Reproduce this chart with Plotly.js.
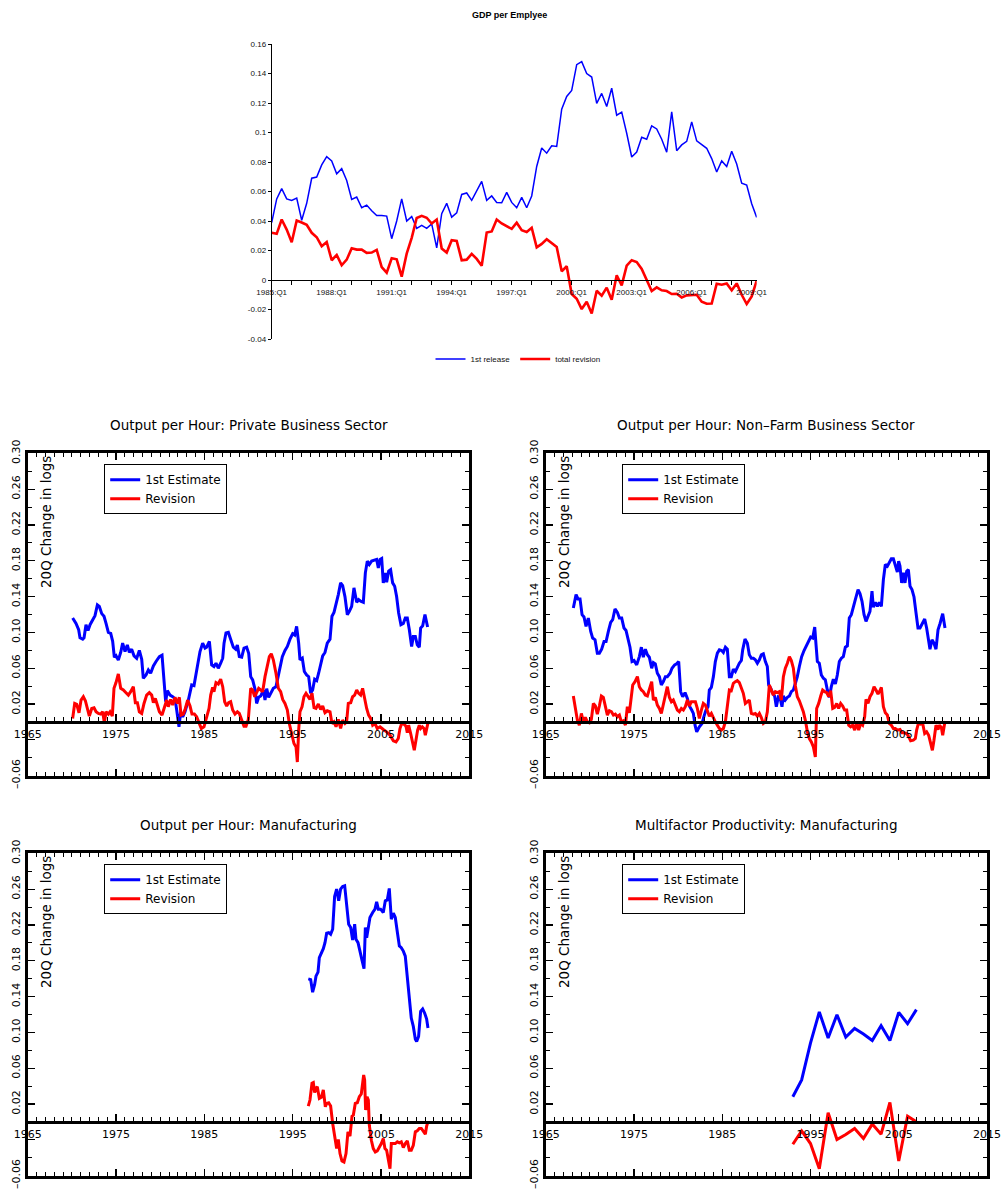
<!DOCTYPE html>
<html><head><meta charset="utf-8">
<script src="https://cdn.plot.ly/plotly-3.0.1.min.js"></script>
<style>html,body{margin:0;padding:0;background:#fff}</style>
</head><body>
<div id="chart" style="width:1001px;height:1191px"></div>
<script>
// ================= DATA =================
// Top chart: GDP per Employee, quarterly from 1985:Q1
const gdpStartYear = 1985;
const gdpFirstRelease = [
0.039,0.055,0.062,0.055,0.054,0.0555,0.0405,0.052,0.069,0.0698,
0.078,0.0836,0.0807,0.072,0.0755,0.0675,0.0546,0.0562,0.049,0.0508,
0.047,0.0437,0.0437,0.0433,0.028,0.040,0.055,0.040,0.043,0.035,
0.037,0.035,0.038,0.0218,0.045,0.052,0.0426,0.0455,0.058,0.059,
0.054,0.060,0.0669,0.054,0.057,0.0526,0.0524,0.0594,0.0526,0.049,
0.056,0.049,0.057,0.077,0.0895,0.086,0.091,0.0906,0.1158,0.1244,
0.1285,0.146,0.148,0.140,0.1376,0.1197,0.1265,0.1176,0.130,0.1117,
0.1138,0.0995,0.0834,0.0868,0.0968,0.0954,0.1045,0.1024,0.0954,0.0866,
0.114,0.0877,0.0916,0.094,0.1072,0.0943,0.0916,0.0893,0.0823,0.0732,
0.0807,0.077,0.0873,0.0786,0.0657,0.0644,0.0517,0.0424];
const gdpTotalRevision = [
0.032,0.0313,0.041,0.0342,0.0256,0.0403,0.039,0.0374,0.032,0.029,
0.0229,0.0258,0.0134,0.017,0.010,0.0138,0.0215,0.0206,0.0206,0.0184,
0.0186,0.0204,0.0088,0.005,0.0147,0.014,0.0023,0.0179,0.0286,0.042,
0.0435,0.0422,0.0383,0.041,0.0213,0.0186,0.027,0.0265,0.0134,0.0138,
0.0177,0.0143,0.0097,0.0322,0.0329,0.041,0.0383,0.0365,0.0347,0.0388,
0.0338,0.0326,0.0354,0.0222,0.0245,0.0276,0.0252,0.0224,0.0059,0.0093,
-0.0095,-0.0127,-0.0197,-0.0147,-0.0227,-0.0073,-0.0107,-0.0052,-0.0134,0.0032,
-0.0036,0.0097,0.0134,0.0122,0.0075,0.0002,-0.0075,-0.005,-0.007,-0.0075,
-0.0095,-0.0093,-0.0118,-0.0104,-0.0102,-0.01,-0.0147,-0.0161,-0.0159,-0.0025,
-0.0032,-0.0023,-0.007,-0.0023,-0.01,-0.0163,-0.0111,-0.0005];
const gdpYTickVals = [-0.04,-0.02,0,0.02,0.04,0.06,0.08,0.1,0.12,0.14,0.16];
const gdpYTickText = ['-0.04','-0.02','0','0.02','0.04','0.06','0.08','0.1','0.12','0.14','0.16'];

// Panel 1: Output per Hour, Private Business Sector
const pbsYears1st = [1970.09,1970.47,1970.77,1970.92,1971.23,1971.38,1971.60,1971.83,1972.06,1972.36,
1972.62,1972.89,1973.11,1973.38,1973.64,1973.87,1974.13,1974.40,1974.62,1974.81,
1975.00,1975.26,1975.53,1975.75,1976.02,1976.28,1976.51,1976.77,1977.04,1977.34,
1977.64,1977.91,1978.09,1978.40,1978.66,1978.92,1979.23,1979.53,1979.91,1980.21,
1980.43,1980.62,1980.81,1981.11,1981.42,1981.68,1981.87,1982.13,1982.32,1982.55,
1982.81,1983.19,1983.57,1983.83,1984.21,1984.51,1984.81,1985.08,1985.26,1985.57,
1985.83,1986.09,1986.32,1986.58,1986.85,1987.08,1987.23,1987.45,1987.72,1987.98,
1988.28,1988.55,1988.74,1988.96,1989.23,1989.49,1989.79,1990.02,1990.25,1990.47,
1990.74,1990.92,1991.15,1991.38,1991.68,1991.87,1992.06,1992.28,1992.51,1992.81,
1993.11,1993.38,1993.57,1993.83,1994.13,1994.40,1994.70,1995.00,1995.23,1995.45,
1995.68,1995.83,1996.09,1996.32,1996.58,1996.81,1997.04,1997.26,1997.49,1997.72,
1997.94,1998.17,1998.40,1998.66,1998.92,1999.23,1999.45,1999.68,1999.91,2000.17,
2000.43,2000.66,2000.92,2001.19,2001.42,2001.68,2001.94,2002.09,2002.25,2002.47,
2002.70,2003.00,2003.23,2003.45,2003.68,2003.94,2004.21,2004.51,2004.70,2004.89,
2005.08,2005.26,2005.49,2005.64,2005.87,2006.09,2006.32,2006.55,2006.77,2007.00,
2007.26,2007.53,2007.75,2007.98,2008.21,2008.47,2008.66,2008.89,2009.11,2009.34,
2009.49,2009.72,2009.98,2010.28];
const pbs1st = [0.116,0.110,0.103,0.094,0.0925,0.094,0.1086,0.102,0.1086,0.115,
0.1187,0.1307,0.129,0.121,0.118,0.110,0.100,0.099,0.090,0.0723,
0.074,0.069,0.0776,0.088,0.0787,0.086,0.0776,0.0813,0.0738,0.071,
0.0798,0.070,0.0488,0.0525,0.058,0.0544,0.0626,0.0675,0.073,0.0746,
0.043,0.0226,0.035,0.030,0.0282,0.026,0.0133,-0.0054,0.0114,0.0058,
0.0114,0.0245,0.0413,0.0406,0.0619,0.0787,0.088,0.0824,0.0835,0.0899,
0.0637,0.0619,0.0656,0.060,0.0656,0.0712,0.088,0.0993,0.100,0.0918,
0.0835,0.0813,0.086,0.073,0.0723,0.0824,0.0835,0.0768,0.0506,0.047,
0.0364,0.0207,0.0275,0.029,0.0357,0.0245,0.0372,0.0275,0.032,0.0376,
0.0394,0.0525,0.0589,0.073,0.0798,0.0843,0.0925,0.0985,0.097,0.1067,
0.088,0.0694,0.0712,0.0563,0.0525,0.0506,0.032,0.0357,0.0477,0.0462,
0.0544,0.0656,0.0738,0.0776,0.088,0.0925,0.118,0.1224,0.131,0.1422,
0.1553,0.1523,0.140,0.1198,0.1235,0.129,0.1497,0.140,0.1336,0.1366,
0.1348,0.1336,0.1665,0.1796,0.1758,0.1796,0.1807,0.1815,0.172,0.1815,
0.1826,0.1553,0.1665,0.156,0.1684,0.170,0.1553,0.1516,0.140,0.1217,
0.1086,0.110,0.116,0.116,0.103,0.0843,0.0955,0.0955,0.0862,0.0835,
0.1049,0.1075,0.1198,0.106];
const pbsYearsRev = [1970.09,1970.32,1970.55,1970.81,1971.04,1971.30,1971.53,1971.75,1971.98,1972.25,
1972.51,1972.74,1973.00,1973.26,1973.49,1973.68,1973.87,1974.13,1974.32,1974.58,
1974.77,1975.00,1975.26,1975.53,1975.83,1976.13,1976.40,1976.66,1976.96,1977.19,
1977.42,1977.64,1977.91,1978.17,1978.47,1978.77,1979.04,1979.23,1979.45,1979.68,
1979.91,1980.21,1980.47,1980.74,1980.92,1981.19,1981.42,1981.68,1981.94,1982.17,
1982.36,1982.62,1982.85,1983.11,1983.38,1983.60,1983.87,1984.13,1984.40,1984.66,
1984.96,1985.26,1985.53,1985.72,1985.94,1986.09,1986.32,1986.58,1986.85,1987.08,
1987.30,1987.53,1987.75,1987.98,1988.21,1988.47,1988.74,1988.96,1989.23,1989.49,
1989.72,1989.98,1990.25,1990.47,1990.70,1990.92,1991.15,1991.38,1991.60,1991.87,
1992.13,1992.36,1992.58,1992.81,1993.11,1993.38,1993.64,1993.87,1994.13,1994.40,
1994.62,1994.89,1995.15,1995.38,1995.53,1995.68,1995.83,1996.06,1996.28,1996.51,
1996.74,1996.96,1997.19,1997.42,1997.64,1997.91,1998.17,1998.40,1998.66,1998.92,
1999.23,1999.45,1999.68,1999.91,2000.17,2000.43,2000.66,2000.92,2001.11,2001.30,
2001.57,2001.79,2002.02,2002.25,2002.47,2002.70,2002.92,2003.15,2003.38,2003.60,
2003.83,2004.06,2004.32,2004.58,2004.89,2005.26,2005.64,2006.02,2006.40,2006.70,
2006.96,2007.15,2007.34,2007.60,2007.83,2007.98,2008.13,2008.36,2008.58,2008.77,
2008.96,2009.15,2009.34,2009.49,2009.68,2009.87,2010.02,2010.17,2010.32];
const pbsRev = [0.0039,0.0207,0.0196,0.0103,0.0245,0.0282,0.0237,0.0151,0.0065,0.0151,
0.0159,0.0114,0.0095,0.0088,0.0114,-0.001,0.0114,0.0088,0.0114,0.0065,
0.0376,0.044,0.0537,0.0376,0.0357,0.0327,0.030,0.0338,0.0394,0.0215,
0.0215,0.0114,0.0095,0.0207,0.030,0.0327,0.030,0.0215,0.0263,0.0189,
0.0114,0.0077,0.0163,0.0245,0.017,0.0252,0.0189,0.0275,0.0207,0.0275,
0.0077,0.0088,0.0151,0.0245,0.0178,0.0088,0.0088,0.0058,-0.001,-0.0073,
-0.0054,0.0065,0.0151,0.030,0.0387,0.0338,0.044,0.0424,0.0477,0.0394,
0.0226,0.0178,0.0215,0.0226,0.0133,0.0088,0.0114,0.0095,0.0028,-0.0047,
-0.0047,0.0028,0.0376,0.0357,0.0282,0.0338,0.0376,0.0357,0.0338,0.0506,
0.0626,0.073,0.0761,0.0694,0.0544,0.0376,0.0338,0.0252,0.0207,0.0133,
-0.0017,-0.0148,-0.0241,-0.0279,-0.0447,-0.0091,0.0114,0.017,0.0282,0.032,
0.029,0.0252,0.032,0.0159,0.0151,0.020,0.014,0.0178,0.0103,0.0125,
0.0114,-0.0017,0.0002,-0.0054,0.0028,-0.0073,0.002,-0.0017,0.0002,0.0207,
0.0215,0.0282,0.030,0.0357,0.032,0.030,0.0376,0.0245,0.0151,0.0077,
0.0039,-0.0036,-0.0017,-0.0073,-0.0054,-0.0084,-0.011,-0.0148,-0.0211,-0.0222,
-0.0185,-0.0073,-0.0017,-0.0024,-0.0047,-0.0121,-0.0036,-0.0129,-0.0241,-0.0316,
-0.0204,-0.0091,-0.0036,-0.0073,-0.0054,-0.0073,-0.0148,-0.0054,-0.001];

// Panel 2: Output per Hour, Non-Farm Business Sector
const nfbYears1st = [1968.13,1968.44,1968.66,1968.89,1969.12,1969.34,1969.57,1969.83,1970.10,1970.32,
1970.59,1970.85,1971.08,1971.34,1971.61,1971.84,1972.10,1972.36,1972.59,1972.85,
1973.12,1973.35,1973.61,1973.87,1974.10,1974.37,1974.55,1974.78,1975.01,1975.31,
1975.61,1975.84,1976.06,1976.29,1976.52,1976.74,1977.01,1977.20,1977.42,1977.65,
1977.88,1978.10,1978.33,1978.56,1978.78,1979.09,1979.31,1979.61,1979.84,1980.07,
1980.29,1980.52,1980.79,1981.05,1981.28,1981.54,1981.73,1981.92,1982.11,1982.41,
1982.71,1982.94,1983.16,1983.39,1983.54,1983.77,1984.00,1984.22,1984.45,1984.68,
1984.94,1985.13,1985.36,1985.58,1985.81,1986.03,1986.26,1986.49,1986.71,1986.94,
1987.17,1987.32,1987.58,1987.85,1988.07,1988.30,1988.53,1988.75,1988.98,1989.21,
1989.43,1989.66,1989.89,1990.11,1990.26,1990.49,1990.72,1990.94,1991.13,1991.36,
1991.55,1991.77,1991.92,1992.15,1992.38,1992.61,1992.83,1993.06,1993.29,1993.51,
1993.74,1994.00,1994.27,1994.57,1994.80,1995.02,1995.25,1995.48,1995.63,1995.78,
1996.00,1996.23,1996.46,1996.68,1996.91,1997.14,1997.36,1997.59,1997.82,1998.04,
1998.27,1998.50,1998.72,1998.95,1999.18,1999.40,1999.63,1999.86,2000.08,2000.39,
2000.61,2000.84,2001.07,2001.29,2001.52,2001.74,2001.97,2002.12,2002.35,2002.58,
2002.80,2003.03,2003.26,2003.48,2003.71,2003.93,2004.16,2004.39,2004.61,2004.84,
2004.99,2005.14,2005.33,2005.52,2005.71,2005.90,2006.09,2006.28,2006.50,2006.73,
2006.96,2007.18,2007.41,2007.64,2007.94,2008.16,2008.35,2008.54,2008.77,2008.99,
2009.22,2009.45,2009.68,2009.98,2010.24];
const nfb1st = [0.1273,0.1422,0.1374,0.1374,0.1198,0.1172,0.1067,0.116,0.1011,0.0937,
0.0918,0.0768,0.0768,0.0813,0.0899,0.0899,0.1011,0.1112,0.1142,0.1262,
0.1224,0.116,0.116,0.1049,0.1022,0.0899,0.0835,0.0675,0.0686,0.0637,
0.073,0.0835,0.0723,0.0813,0.075,0.0723,0.06,0.0663,0.0649,0.0544,
0.0506,0.0413,0.045,0.0506,0.0506,0.0544,0.06,0.0637,0.0649,0.0675,
0.0338,0.0282,0.0327,0.0263,0.0178,0.0133,0.0095,-0.0036,-0.011,-0.0054,
-0.0017,0.0065,0.0133,0.017,0.0357,0.0387,0.0506,0.0675,0.0768,0.0805,
0.0798,0.0776,0.0835,0.0813,0.0506,0.0506,0.0589,0.0563,0.0611,0.0656,
0.0686,0.0805,0.0925,0.088,0.075,0.0712,0.0712,0.0694,0.0656,0.0694,
0.075,0.0761,0.0675,0.0619,0.0413,0.0376,0.032,0.029,0.017,0.0282,
0.0275,0.017,0.029,0.0245,0.0275,0.029,0.0338,0.0357,0.0432,0.0506,
0.0619,0.073,0.0798,0.0862,0.091,0.0948,0.0937,0.106,0.0862,0.0675,
0.0656,0.0525,0.0488,0.047,0.0357,0.0275,0.0394,0.0477,0.0424,0.0525,
0.0675,0.0712,0.073,0.0835,0.085,0.116,0.1198,0.1273,0.1366,0.1478,
0.1434,0.1348,0.1198,0.1123,0.1187,0.1235,0.146,0.1283,0.1336,0.129,
0.1336,0.129,0.159,0.1759,0.174,0.1778,0.1822,0.1822,0.174,0.1673,
0.1796,0.174,0.1553,0.1665,0.1553,0.1684,0.170,0.1516,0.1478,0.1396,
0.1217,0.1049,0.1049,0.110,0.115,0.1049,0.0918,0.0813,0.0918,0.088,
0.0813,0.103,0.110,0.1209,0.1049];
const nfbYearsRev = [1968.13,1968.36,1968.59,1968.81,1969.04,1969.27,1969.49,1969.72,1969.95,1970.17,
1970.40,1970.63,1970.85,1971.08,1971.31,1971.53,1971.76,1971.99,1972.21,1972.44,
1972.67,1972.89,1973.12,1973.35,1973.57,1973.80,1974.03,1974.25,1974.48,1974.71,
1974.86,1975.12,1975.39,1975.61,1975.84,1976.06,1976.29,1976.52,1976.74,1977.01,
1977.20,1977.42,1977.65,1977.88,1978.10,1978.33,1978.56,1978.78,1979.01,1979.24,
1979.46,1979.69,1979.92,1980.14,1980.37,1980.60,1980.82,1981.05,1981.28,1981.50,
1981.73,1981.96,1982.18,1982.41,1982.64,1982.86,1983.09,1983.32,1983.54,1983.77,
1984.00,1984.22,1984.45,1984.68,1984.90,1985.13,1985.36,1985.58,1985.81,1986.03,
1986.26,1986.49,1986.71,1986.94,1987.17,1987.39,1987.62,1987.85,1988.07,1988.30,
1988.53,1988.75,1988.98,1989.21,1989.43,1989.66,1989.89,1990.11,1990.34,1990.57,
1990.79,1991.02,1991.25,1991.47,1991.70,1991.93,1992.15,1992.38,1992.61,1992.83,
1993.06,1993.29,1993.51,1993.74,1993.97,1994.19,1994.42,1994.65,1994.87,1995.10,
1995.33,1995.55,1995.70,1995.93,1996.16,1996.38,1996.61,1996.84,1997.06,1997.29,
1997.52,1997.74,1997.97,1998.19,1998.42,1998.65,1998.87,1999.10,1999.33,1999.55,
1999.78,2000.01,2000.23,2000.46,2000.69,2000.91,2001.14,2001.29,2001.52,2001.74,
2001.97,2002.20,2002.42,2002.65,2002.88,2003.03,2003.26,2003.48,2003.71,2003.93,
2004.16,2004.39,2004.61,2004.84,2005.14,2005.37,2005.60,2005.90,2006.13,2006.35,
2006.65,2006.88,2007.03,2007.22,2007.48,2007.71,2007.94,2008.16,2008.39,2008.62,
2008.81,2008.99,2009.22,2009.45,2009.60,2009.83,2009.98,2010.20,2010.35];
const nfbRev = [0.029,0.017,0.002,-0.0036,0.0095,0.0002,0.005,0.0002,-0.001,0.0028,
0.0207,0.0178,0.0088,0.0178,0.029,0.0275,0.017,0.0077,0.0125,0.0114,
0.0077,0.0088,0.0058,0.0077,0.0002,0.0013,-0.0036,0.017,0.0103,0.0263,
0.0413,0.045,0.0506,0.0394,0.0357,0.0338,0.030,0.029,0.0376,0.045,
0.0245,0.0275,0.0189,0.0151,0.0095,0.0207,0.0282,0.0394,0.0275,0.0226,
0.0245,0.0189,0.0133,0.0114,0.0151,0.0133,0.017,0.0245,0.0178,0.0226,
0.0226,0.0226,0.0151,0.0039,0.0133,0.0207,0.0189,0.0114,0.0065,0.0095,
0.0039,0.0002,-0.0036,-0.0073,-0.0091,-0.0073,0.0002,0.0151,0.0357,0.035,
0.0432,0.045,0.0462,0.044,0.0376,0.032,0.0207,0.0226,0.0245,0.0095,
0.0088,0.0095,0.0065,0.0095,0.005,-0.0017,0.0002,0.0114,0.0413,0.0357,
0.030,0.0338,0.0327,0.0338,0.0245,0.0506,0.060,0.0656,0.073,0.0686,
0.060,0.0402,0.0282,0.0237,0.017,0.0114,0.002,-0.011,-0.0185,-0.0222,
-0.0279,-0.0391,0.0151,0.0207,0.029,0.0357,0.0338,0.0327,0.0282,0.035,
0.0151,0.0163,0.0207,0.0151,0.0207,0.0178,0.0133,0.0133,-0.0036,-0.0054,
-0.0036,-0.0091,0.0002,-0.0091,-0.0017,-0.0036,0.0058,0.0252,0.0207,0.0282,
0.032,0.0394,0.0357,0.0312,0.035,0.0387,0.017,0.0103,0.0077,-0.0017,
-0.0036,-0.0073,-0.0073,-0.0091,-0.0084,-0.0121,-0.0121,-0.0129,-0.0166,-0.0211,
-0.0204,-0.0185,-0.0091,-0.0017,-0.0024,-0.0017,-0.0129,-0.011,-0.0148,-0.0241,
-0.0316,-0.0204,-0.0036,-0.0084,-0.0036,-0.0062,-0.0148,-0.0017,0.0002];

// Panel 3: Output per Hour, Manufacturing
const mfgYears1st = [1996.77,1997.04,1997.26,1997.49,1997.64,1997.87,1998.02,1998.28,1998.47,1998.66,
1998.85,1999.08,1999.30,1999.53,1999.75,1999.98,2000.21,2000.43,2000.66,2000.89,
2001.11,2001.34,2001.57,2001.79,2002.02,2002.17,2002.40,2002.62,2002.85,2003.08,
2003.23,2003.38,2003.53,2003.75,2004.06,2004.32,2004.51,2004.70,2004.96,2005.26,
2005.49,2005.72,2005.94,2006.17,2006.40,2006.62,2006.85,2007.08,2007.30,2007.53,
2007.75,2007.98,2008.21,2008.43,2008.66,2008.89,2009.04,2009.26,2009.49,2009.72,
2009.94,2010.17,2010.32];
const mfg1st = [0.1598,0.159,0.1449,0.1535,0.1628,0.1673,0.1834,0.189,0.1935,0.2002,
0.2107,0.2114,0.2096,0.2152,0.2518,0.260,0.2469,0.260,0.263,0.2638,
0.2432,0.2208,0.2171,0.2032,0.2208,0.2039,0.2002,0.192,0.1808,0.1711,
0.2171,0.2058,0.2171,0.2283,0.2339,0.2376,0.2458,0.2376,0.2376,0.2339,
0.2469,0.248,0.2608,0.2264,0.2331,0.2283,0.2122,0.1965,0.1946,0.1908,
0.1852,0.1628,0.1441,0.116,0.1067,0.0925,0.0899,0.0955,0.1235,0.1262,
0.1217,0.115,0.1049];
const mfgYearsRev = [1996.77,1996.96,1997.19,1997.34,1997.49,1997.64,1997.79,1998.02,1998.25,1998.47,
1998.70,1998.85,1999.08,1999.30,1999.53,1999.75,1999.98,2000.17,2000.36,2000.58,
2000.81,2001.04,2001.26,2001.49,2001.72,2001.87,2002.09,2002.32,2002.55,2002.77,
2002.92,2003.04,2003.15,2003.26,2003.42,2003.57,2003.68,2003.91,2004.13,2004.36,
2004.58,2004.81,2005.04,2005.26,2005.45,2005.64,2005.87,2006.02,2006.17,2006.40,
2006.62,2006.85,2007.08,2007.30,2007.53,2007.75,2007.98,2008.21,2008.43,2008.66,
2008.89,2009.11,2009.34,2009.57,2009.79,2010.02,2010.17,2010.32];
const mfgRev = [0.0178,0.0245,0.0432,0.044,0.0327,0.0376,0.0394,0.0263,0.0275,0.0357,
0.017,0.0207,0.0215,0.0178,-0.0017,-0.0166,-0.0297,-0.0196,-0.0353,-0.0436,
-0.0447,-0.0353,-0.011,-0.0159,0.0065,0.0077,0.0207,0.0215,0.0282,0.0312,
0.0413,0.0525,0.0469,0.0133,0.0282,0.0245,-0.0036,-0.0204,-0.0297,-0.0335,
-0.0324,-0.0286,-0.0241,-0.0185,-0.0297,-0.0316,-0.0428,-0.0522,-0.0241,-0.0241,
-0.0241,-0.0222,-0.0234,-0.0222,-0.0286,-0.0241,-0.0211,-0.0316,-0.0316,-0.026,
-0.011,-0.0099,-0.0073,-0.0073,-0.0099,-0.0136,-0.0047,0.0002];

// Panel 4: Multifactor Productivity, Manufacturing (annual)
const mfpYears = [1993,1994,1995,1996,1997,1998,1999,2000,2001,2002,2003,2004,2005,2006,2007];
const mfp1st = [0.0282,0.0469,0.088,0.1228,0.0937,0.1198,0.0948,0.1045,0.0981,0.091,0.1075,0.091,0.1224,0.1097,0.1254];
const mfpRev = [-0.0249,-0.0099,-0.0241,-0.0522,0.0103,-0.0196,-0.014,-0.0073,-0.0185,-0.0024,-0.0136,0.0219,-0.0436,0.0065,0.0002];

const panelTitles = ['Output per Hour: Private Business Sector','Output per Hour: Non\u2013Farm Business Sector',
  'Output per Hour: Manufacturing','Multifactor Productivity: Manufacturing'];
const panelYTickVals = [-0.06,-0.02,0.02,0.06,0.10,0.14,0.18,0.22,0.26,0.30];
const panelYTickText = ['\u20130.06','','0.02','0.06','0.10','0.14','0.18','0.22','0.26','0.30'];

// ================= LAYOUT =================
const W = 1001, H = 1191;
const px = v => v / W, py = v => 1 - v / H;
const BLUE = '#0000ff', RED = '#ff0000';
const PF = 'DejaVu Sans, Verdana, sans-serif';
const AF = 'Liberation Sans, Arial, sans-serif';

const gdpQuarters = [];
for (let y = gdpStartYear; gdpQuarters.length < gdpFirstRelease.length; y++)
  for (let q = 1; q <= 4 && gdpQuarters.length < gdpFirstRelease.length; q++) gdpQuarters.push(y + ':Q' + q);
const gdpTickVals = gdpQuarters.filter((_, i) => i % 4 === 0);
const gdpTickText = gdpQuarters.map((s, i) => i % 12 === 0 ? s : '').filter((_, i) => i % 4 === 0);

const traces = [
  {x: gdpQuarters, y: gdpFirstRelease, type: 'scatter', mode: 'lines', name: '1st release',
   line: {color: BLUE, width: 1.5}, xaxis: 'x', yaxis: 'y', legend: 'legend'},
  {x: gdpQuarters, y: gdpTotalRevision, type: 'scatter', mode: 'lines', name: 'total revision',
   line: {color: RED, width: 2.6}, xaxis: 'x', yaxis: 'y', legend: 'legend'}
];

const layout = {
  width: W, height: H, margin: {l: 0, r: 0, t: 0, b: 0},
  paper_bgcolor: '#fff', plot_bgcolor: 'rgba(0,0,0,0)', showlegend: true,
  font: {family: PF, color: '#000'},
  xaxis: {domain: [px(271.7), px(756.7)], type: 'category', range: [0, gdpFirstRelease.length - 1],
    anchor: 'free', position: py(280), showline: true, linecolor: '#000', linewidth: 1,
    ticks: 'outside', ticklen: 4, tickcolor: '#000', tickmode: 'array', tickvals: gdpTickVals, ticktext: gdpTickText,
    tickfont: {family: AF, size: 8, color: '#111'}, showgrid: false, zeroline: false, automargin: false},
  yaxis: {domain: [py(339), py(44)], range: [-0.04, 0.16], anchor: 'x', showline: true, linecolor: '#000', linewidth: 1,
    ticks: 'outside', ticklen: 3, tickcolor: '#000', tickmode: 'array', tickvals: gdpYTickVals, ticktext: gdpYTickText,
    tickfont: {family: AF, size: 8, color: '#111'}, showgrid: false, zeroline: false, automargin: false},
  legend: {x: px(518), y: py(359), xanchor: 'center', yanchor: 'middle', orientation: 'h',
    font: {family: AF, size: 8, color: '#111'}, bgcolor: 'rgba(0,0,0,0)', itemwidth: 30},
  annotations: [
    {text: '<b>GDP per Emplyee</b>', x: px(510), y: py(15), xref: 'paper', yref: 'paper', showarrow: false,
     xanchor: 'center', yanchor: 'middle', font: {family: AF, size: 9, color: '#000'}}
  ]
};

const panels = [
  {left: 27.7, right: 469.3, top: 453.3, bottom: 775.7, titleY: 425, x1: pbsYears1st, y1: pbs1st, xr: pbsYearsRev, yr: pbsRev},
  {left: 545.7, right: 987, top: 453.3, bottom: 775.7, titleY: 425, x1: nfbYears1st, y1: nfb1st, xr: nfbYearsRev, yr: nfbRev},
  {left: 27.7, right: 469.3, top: 853.3, bottom: 1175.7, titleY: 825, x1: mfgYears1st, y1: mfg1st, xr: mfgYearsRev, yr: mfgRev},
  {left: 545.7, right: 987, top: 853.3, bottom: 1175.7, titleY: 825, x1: mfpYears, y1: mfp1st, xr: mfpYears, yr: mfpRev}
];
const yMin = -0.06, yMax = 0.30;

panels.forEach((p, i) => {
  const k = i + 2, z = i + 6;
  const xd = [px(p.left), px(p.right)], yd = [py(p.bottom), py(p.top)];
  const zeroPx = p.top + (yMax / (yMax - yMin)) * (p.bottom - p.top);
  const lg = 'legend' + k;
  traces.push({x: p.x1, y: p.y1, type: 'scatter', mode: 'lines', name: '1st Estimate',
    line: {color: BLUE, width: 3}, xaxis: 'x' + k, yaxis: 'y' + k, legend: lg});
  traces.push({x: p.xr, y: p.yr, type: 'scatter', mode: 'lines', name: 'Revision',
    line: {color: RED, width: 3}, xaxis: 'x' + z, yaxis: 'y' + k, legend: lg});
  layout['xaxis' + k] = {domain: xd, range: [1965, 2015], anchor: 'y' + k, showline: true, linecolor: '#000', linewidth: 3,
    mirror: 'ticks', ticks: 'inside', ticklen: 7, tickwidth: 1.2, tickcolor: '#000',
    tickmode: 'linear', tick0: 1965, dtick: 10, showticklabels: false,
    minor: {tickmode: 'linear', tick0: 1965, dtick: 1, ticks: 'inside', ticklen: 4, tickwidth: 1, tickcolor: '#000'},
    showgrid: false, zeroline: false, automargin: false};
  layout['xaxis' + z] = {domain: xd, range: [1965, 2015], overlaying: 'x' + k, anchor: 'free', position: py(zeroPx),
    showline: true, linecolor: '#000', linewidth: 3.5, ticks: 'inside', ticklen: 7, tickwidth: 1.2, tickcolor: '#000',
    tickmode: 'linear', tick0: 1965, dtick: 10,
    minor: {tickmode: 'linear', tick0: 1965, dtick: 1, ticks: 'inside', ticklen: 4, tickwidth: 1, tickcolor: '#000'},
    tickfont: {family: PF, size: 11, color: '#000'}, showgrid: false, zeroline: false, automargin: false};
  layout['yaxis' + k] = {domain: yd, range: [yMin, yMax], anchor: 'x' + k, showline: true, linecolor: '#000', linewidth: 3,
    mirror: 'ticks', ticks: 'inside', ticklen: 7, tickwidth: 1.2, tickcolor: '#000',
    tickmode: 'array', tickvals: panelYTickVals, ticktext: panelYTickText, tickangle: -90,
    minor: {tickmode: 'linear', tick0: 0, dtick: 0.02, ticks: 'inside', ticklen: 4, tickwidth: 1, tickcolor: '#000'},
    tickfont: {family: PF, size: 11, color: '#000'}, showgrid: false, zeroline: false, automargin: false};
  layout[lg] = {x: px(p.left + 76.5), y: py(p.top + 11), xanchor: 'left', yanchor: 'top',
    bordercolor: '#000', borderwidth: 1, bgcolor: '#fff', font: {family: PF, size: 12, color: '#000'}, itemwidth: 30};
  layout.annotations.push({text: panelTitles[i], x: px((p.left + p.right) / 2), y: py(p.titleY), xref: 'paper', yref: 'paper',
    showarrow: false, xanchor: 'center', yanchor: 'middle', font: {family: PF, size: 13.5, color: '#000'}});
  layout.annotations.push({text: '20Q Change in logs', textangle: -90, x: px(p.left + 19), y: py(p.top + 1),
    xref: 'paper', yref: 'paper', showarrow: false, xanchor: 'center', yanchor: 'top',
    font: {family: PF, size: 13.5, color: '#000'}});
});

Plotly.newPlot('chart', traces, layout, {staticPlot: true, displayModeBar: false});
</script>
</body></html>
